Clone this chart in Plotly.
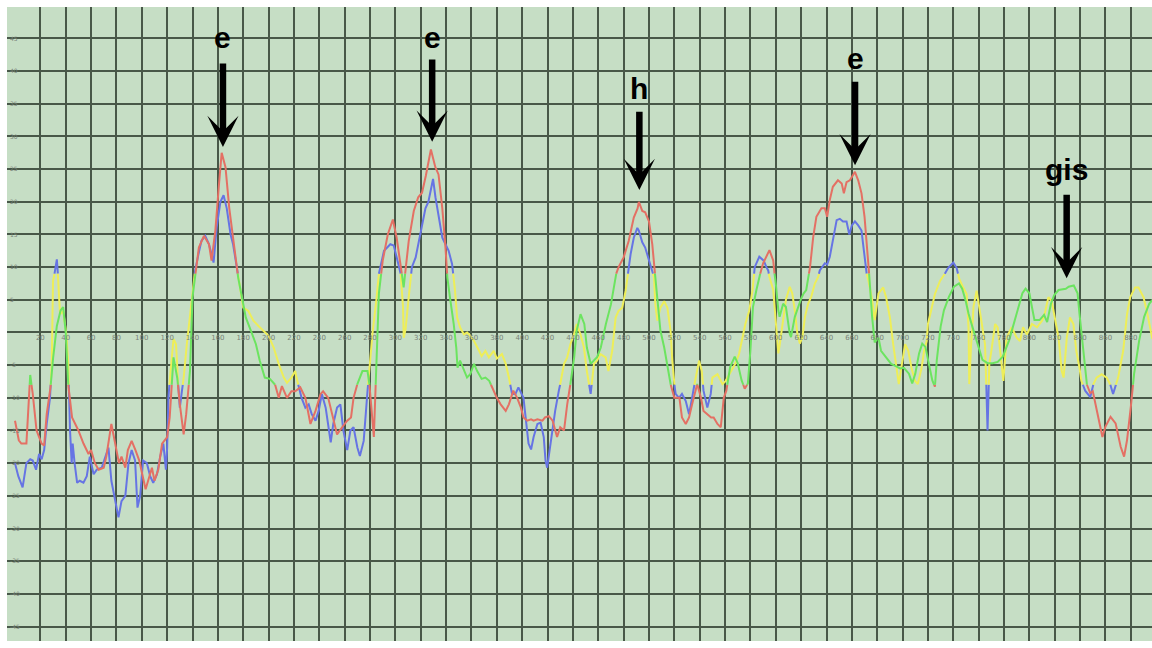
import plotly.graph_objects as go

# ---- pitch tracks (x position, deviation value) ----
track1_x = [0, 3, 5, 9, 12, 14, 17, 21, 23, 25, 28, 30, 33, 36, 38, 40, 42, 45, 50, 54, 58, 60, 63, 66, 70, 72,
            76, 79, 82, 84, 87, 89, 92, 95, 98, 103, 105, 108, 110, 113, 116, 120, 122, 125, 128, 130, 133, 135,
            138, 140, 143, 145, 149, 153, 155, 158, 161, 163, 166, 169, 172, 176, 179, 182, 186, 190, 193, 197,
            201, 205, 208, 210.5, 214.5, 218, 221, 225, 229, 233, 237, 241, 243, 247, 251, 254, 258, 262, 265,
            267, 270, 274, 278, 279.5, 281.5, 283, 285, 287, 290, 294, 298, 301, 304, 306.5, 310.5, 314.5, 318,
            321, 324, 328, 331.5, 334, 337, 339.5, 341, 343, 346, 348, 349, 351, 354, 356.5, 359, 362, 364.5, 368,
            371, 374, 377.5, 380, 383, 387, 389.5, 393, 396, 399, 401, 404, 407, 409, 412, 416, 418, 421, 424,
            426, 427.5, 430, 433, 435.5, 438, 441, 443, 446, 449, 451, 454, 456.5, 459, 462, 466, 470, 474, 476,
            480, 484, 488, 491, 492, 494.7, 497, 500, 502.6, 505, 506.6, 509, 512, 514.5, 517, 520, 524, 526, 529,
            531.6, 534, 538, 541, 543, 546, 549, 551, 554, 556.6, 559, 561, 564, 567.6, 570, 573, 575.5, 578, 580,
            582, 584.7, 587, 590, 595, 598, 599, 600, 602, 603, 605.8, 608, 611, 612, 615, 617.6, 620, 622, 624,
            627, 629.5, 632, 636, 638.7, 640.5, 642.6, 645, 649, 652, 653.7, 655.8, 658.4, 660, 662.4, 665, 667.6,
            670, 673, 674.5, 676, 678, 681, 683, 687, 691, 695, 698, 701, 705, 707.6, 710, 713, 715.5, 718, 720.8,
            723.4, 725.5, 727, 730, 732.6, 736.6, 740.5, 744.5, 747, 749.7, 752, 755, 759, 763, 767, 771, 775, 779,
            784, 788, 792, 794.5, 797, 800, 802, 804, 808, 811.6, 814, 817, 819.5, 823, 828.7, 831, 835, 838, 839.5,
            842, 843.5, 845, 848, 850, 854, 857.6, 860, 864, 868, 872, 874.7, 877, 880, 882.6, 886.6, 890.5, 894.5,
            897]
track1_y = [-13.5, -16.5, -17, -17, -6.5, -9.4, -15, -17, -17.3, -12.5, -8.4, -4, 1, 3.4, 3.9, 0, -8, -13, -15,
            -17, -18.6, -18, -20, -21, -20.7, -19, -14, -17, -20, -19, -20.7, -18, -16.6, -18, -19.6, -24, -22.7,
            -20.7, -22.7, -21, -17, -16, -13, -3.8, -7, -11, -15.6, -12.5, -5.9, 5.4, 10, 13, 14.8, 13.5, 11, 15.6,
            23, 27.5, 25.3, 19, 14.5, 8.4, 5.4, 2.3, 0.3, -1.8, -4.3, -6.9, -7.1, -7.9, -10, -8.2, -10, -9, -9,
            -8.4, -10, -14, -12, -9.4, -9, -10, -13.5, -15.6, -14.5, -13.5, -13, -10, -7.9, -5.9, -5.9, -7.9,
            -12.5, -16, -5, 6, 11, 15, 17.3, 14.5, 10.5, 6.9, 14, 18.6, 20.7, 21.4, 24, 28, 25.3, 24.2, 19, 13,
            8.4, 5.4, 1.3, -2.3, -5.4, -4.3, -5.9, -6.9, -6.4, -4.8, -5.9, -7.1, -6.9, -7.4, -8.9, -10, -11, -12,
            -11, -8.9, -10, -11.5, -13, -13.5, -13.3, -13.5, -13.3, -13.5, -13, -12.8, -13.5, -15, -16, -14.5,
            -15, -11, -7.9, -3.8, 0.3, 2.8, 1.3, -2.3, -4.8, -4.3, -3.8, -2.3, 1.3, 4.3, 8.9, 10, 11.5, 14, 17.6,
            19, 20, 18.6, 18.4, 17, 13.5, 8.4, 5.4, 0.3, -2.3, -5.4, -7.9, -10, -10, -13, -14, -13, -11, -7.9,
            -10, -12, -12.5, -13, -13, -14, -14.5, -10, -8.9, -5.3, -3.7, -4.7, -7.3, -8.6, -7.8, -2.7, 3.9, 6.5,
            8.5, 10.6, 12.6, 11, 9, 7.5, 3.4, 2.4, 4.4, 3.9, -0.2, -0.7, 2.4, 3.9, 5.2, 6, 6.5, 10, 14.6, 17.7,
            19, 19, 17.7, 20.3, 22.3, 23.3, 22.8, 21.3, 23, 23.3, 23.8, 24.6, 23.3, 21.3, 17.7, 11, 6, 2.3, -1.5,
            -0.8, -2.8, -3.8, -4.8, -5.2, -5.5, -5.4, -6.3, -7.8, -6.3, -3.2, -1.7, -2.2, -4.7, -7.3, -8.3, -4.2,
            0.9, 3.4, 5.5, 7, 7.5, 6.7, 4.9, 2.9, 0.9, -1.7, -4.2, -4.7, -4.7, -4.5, -3.7, -1.2, 1.4, 4.4, 6, 6.7,
            6, 3.9, 1.9, 1.9, 2.7, 1.6, 4.4, 5.7, 6.5, 6.7, 7, 7.2, 6, 2.9, -2.2, -5.3, -7.8, -9.3, -9, -13, -16,
            -14.4, -12.9, -13.9, -17.5, -19, -16.5, -11.4, -6.3, -1.2, 2.4, 4.4, 5]

track2_x = [0, 2.6, 6, 9, 12, 14, 16.6, 19, 21, 23, 25, 27.6, 29, 30, 31.6, 33, 34, 35.5, 38, 40.5, 42, 43.4,
            44.7, 45.5, 47, 49, 51, 54, 56.6, 59, 62, 64.5, 68.4, 72, 73.7, 76, 79, 81.6, 84, 87, 89.5, 92, 94.7,
            96.6, 98.7, 101, 104, 106.6, 109, 112, 114.5, 117, 119, 120, 121, 123, 125, 127, 129, 130, 131.6, 133,
            135.5, 139.5, 142, 144.7, 147, 150, 153, 156.6, 159, 162, 164.5, 167, 170, 172, 175, 178, 180, 184,
            188, 192, 196, 200, 204, 208, 212, 214.5, 218, 221, 222, 226, 229, 231.6, 234, 237, 239.5, 242, 245,
            247, 249, 251, 254, 256.6, 259, 262, 264.5, 267, 270, 272, 275, 278, 280, 282, 285, 287, 291, 296,
            298.7, 301, 304, 306, 306.6, 308, 310.5, 313, 316, 320, 323.7, 326, 329.7, 331.6, 334, 337, 339.5, 342,
            344.7, 347, 348.7, 351, 354, 356.6, 359, 362, 366, 368, 371, 373.7, 377.6, 380, 384, 387, 389.5, 392,
            394.7, 397, 401, 402.6, 405, 407, 409, 412, 414.5, 417, 418.4, 419.7, 421.6, 423.7, 426, 428.9, 430,
            433, 435.5, 438, 440.8, 443, 446, 448.7, 451, 454, 456.6, 459, 461.8, 465.8, 468, 471, 473.7, 476,
            478.9, 481.6, 483, 485.5, 488, 490.8, 492, 494.7, 497, 500, 502.6, 504, 505, 506.6, 509, 512, 514.5,
            517, 518.4, 520, 521, 523.7, 526, 529, 531.6, 534, 536.8, 539.5, 541.6, 543, 546, 548.7, 550, 554, 558,
            560.5, 564.5, 568, 571, 573.7, 576, 579, 581.6, 583.4, 587, 590.5, 592.6, 594, 595, 598, 600, 602, 603,
            605.8, 608, 611, 613, 615, 617, 619, 621, 623, 625.5, 628, 630.8, 633.4, 634.7, 638.7, 640.5, 642.6,
            645, 648, 650.5, 653, 655.8, 658, 660, 662.4, 665, 667.6, 669.5, 671, 673, 676, 678, 681, 684.7, 687,
            690, 692.6, 695, 697, 699, 702, 704.5, 707, 709.7, 712, 715, 717, 719, 720, 723, 725.5, 729.5, 733,
            736, 740, 742.6, 744.7, 747.5, 750.5, 752, 752.6, 754, 756, 758.4, 761, 765, 766, 767, 768.4, 770, 773,
            775, 777, 779.5, 782, 786, 790, 792.6, 795, 798, 802, 806, 810, 812, 815, 817.6, 820, 823, 825.5, 827,
            829.5, 832, 834.7, 837, 839.5, 841, 844, 848, 850.5, 853, 857, 861, 863.7, 866, 867.6, 870, 874, 877,
            879.5, 883.4, 886, 890, 892.6, 895, 897]
track2_y = [-20, -22, -23.7, -20, -19.4, -19.6, -21, -18.6, -19.4, -18, -14, -10, -4.8, 7.9, 9.4, 11.2, 8.4, 2.8,
            3.3, -0.3, -4.8, -15, -20, -17, -20, -23, -22.7, -23, -22, -19, -21.7, -21, -20.7, -18.6, -17.6, -22.7,
            -26, -28.3, -25.8, -25, -20, -18, -19.6, -26.8, -25, -19.6, -20, -22, -23, -21.7, -19, -17, -21, -17.6,
            -10, -4.8, -1, -1.8, -9, -11.5, -9, -7, -1.8, 5.4, 9.4, 12, 14, 14.8, 13.5, 10.7, 16, 20, 21, 19, 15,
            13.5, 10, 5.9, 3.8, 3.3, 1.8, 1, 0.3, -0.5, -2.3, -4.8, -6.9, -7.7, -6.9, -5.9, -6.9, -10, -11.5, -11,
            -12.5, -13.5, -12, -9.4, -11.5, -14.5, -16.8, -14, -11.5, -11, -15, -18, -15, -14.5, -17.6, -18.9,
            -16.6, -9, -4.3, 0, 5, 9, 12.5, 13.5, 13.3, 11.5, 9.4, 4, -0.8, 0.5, 5.4, 10, 11.5, 15.6, 19, 20, 23.5,
            20.7, 17.6, 14.5, 13.5, 12.5, 10.5, 6.4, 2.3, 0.8, -0.3, 0, -0.5, -1.3, -2.8, -3.6, -2.8, -3.8, -2.8,
            -4, -3.3, -4.8, -6.9, -9.4, -9.4, -8.4, -10, -13, -17, -17.9, -16, -14, -13.8, -16, -19.6, -20.7, -18,
            -15, -12, -8.9, -7.9, -4.8, -3.8, -1.8, -0.3, 1.3, -0.3, -2.3, -5.9, -9.4, -4.8, -4.3, -3.3, -3.8,
            -5.9, -2.8, 2.3, 3.3, 3.8, 6.4, 8.4, 12, 14.5, 16, 15.6, 13.8, 13, 11, 9.4, 8.4, 4.3, 1.8, 3.8, 4.8,
            3.8, 0.3, -4.3, -7.9, -9.4, -10, -9.4, -10.5, -12.5, -10, -6.9, -4.3, -5.9, -8.9, -11.5, -9.4, -6.9,
            -6.4, -7.9, -7.4, -5.9, -4.8, -3.3, -0.8, 1.3, 3.3, 6.4, 10, 11.6, 11, 10, 9.5, 8.5, 6.5, 1.4, -3.2,
            -2, 1.9, 5, 7, 6, 3.4, -0.2, -1.7, -0.7, 2.4, 4.4, 5.5, 7.5, 8.5, 9.5, 10.6, 10.4, 11.6, 14, 17.2,
            17.4, 17, 17, 15, 16.4, 17, 16.4, 15.6, 12.5, 9.5, 8, 5, 1.9, 6, 6.9, 5.4, 2.3, -1.8, -5.4, -7.9, -5.4,
            -1.8, -2.8, -5.4, -7.4, -7.9, -5.4, -2.8, -1.3, 1.3, 3.8, 5.9, 7.9, 8.9, 9.9, 10.7, 9.9, 8.2, 7, 5.9,
            0.8, -7.9, -2, 4, 6.4, 3.3, -1.8, -7.9, -15, -4.8, -2.8, 1.3, 0.8, -2.8, -7.4, -0.8, 0.8, -0.8, -1.3,
            0.8, -0.3, 1.3, 0.8, 1.8, 2.8, 5.4, 4.8, 2.3, -0.8, -5.9, -6.9, -0.8, 2.3, 1.3, -2.8, -5.4, -7.4, -8.9,
            -9.9, -7.9, -6.9, -6.4, -6.9, -7.9, -9.4, -8.4, -6.9, -2.8, 2.8, 5.4, 6.9, 6.9, 5.4, 3.3, 0.8, -1]

# ---- note markers: label, x of the peak, arrow tip / tail / text heights ----
note_labels = ["e", "e", "h", "e", "gis"]
note_x = [164.0, 329.0, 492.4, 662.5, 829.4]
note_tip_y = [28.4, 29.2, 21.8, 25.6, 8.3]
note_tail_y = [41.4, 42.0, 34.0, 38.6, 21.3]
note_text_y = [45.1, 45.1, 37.4, 42.0, 25.0]

# ---- axes ----
x_tick_values = list(range(0, 900, 20))
x_tick_labels = [""] + [str(v) for v in range(20, 900, 20)]
y_tick_values = list(range(-45, 50, 5))
y_tick_labels = [str(v) if v != 0 else "" for v in y_tick_values]

X_RANGE = [-6.31, 896.7]
Y_RANGE = [-47.22, 49.82]
HIGH, LOW = 9.0, -8.0
GRID = "rgb(72,88,72)"

COLORS = {
    ("t1", True): "rgb(228,112,100)",
    ("t1", False): "rgb(108,228,96)",
    ("t2", True): "rgb(102,116,228)",
    ("t2", False): "rgb(238,238,88)",
}


def colour_runs(xs, ys, high, low):
    """Split a polyline into runs that lie outside / inside the [low, high] band."""
    runs = []
    cur_x, cur_y, cur_state = [xs[0]], [ys[0]], None
    for i in range(1, len(xs)):
        x0, y0, x1, y1 = xs[i - 1], ys[i - 1], xs[i], ys[i]
        cuts = []
        for level in (high, low):
            if (y0 - level) * (y1 - level) < 0:
                cuts.append((level - y0) / (y1 - y0))
        cuts = sorted(cuts) + [1.0]
        t_prev = 0.0
        for t in cuts:
            tm = (t_prev + t) / 2
            ym = y0 + tm * (y1 - y0)
            state = ym >= high or ym <= low
            px, py = x0 + t * (x1 - x0), y0 + t * (y1 - y0)
            if cur_state is None:
                cur_state = state
            if state != cur_state:
                runs.append((cur_state, cur_x, cur_y))
                sx, sy = x0 + t_prev * (x1 - x0), y0 + t_prev * (y1 - y0)
                cur_x, cur_y, cur_state = [sx], [sy], state
            cur_x.append(px)
            cur_y.append(py)
            t_prev = t
    runs.append((cur_state, cur_x, cur_y))
    return runs


fig = go.Figure()

for name, xs, ys in (("t2", track2_x, track2_y), ("t1", track1_x, track1_y)):
    for state, rx, ry in colour_runs(xs, ys, HIGH, LOW):
        fig.add_trace(go.Scatter(
            x=rx, y=ry, mode="lines",
            line=dict(color=COLORS[(name, state)], width=2),
            hoverinfo="skip", showlegend=False,
        ))

annotations = []
for label, nx, tip, tail, ty in zip(note_labels, note_x, note_tip_y, note_tail_y, note_text_y):
    annotations.append(dict(
        x=nx, y=tip, xref="x", yref="y",
        ax=nx, ay=tail, axref="x", ayref="y",
        text="", showarrow=True,
        arrowhead=3, arrowsize=0.8, arrowwidth=6.5, arrowcolor="black",
    ))
    annotations.append(dict(
        x=nx, y=ty, xref="x", yref="y", text=label, showarrow=False,
        font=dict(family="Liberation Sans, Arial, sans-serif", size=30, color="black", weight="bold"),
    ))

zero_pos = (0 - Y_RANGE[0]) / (Y_RANGE[1] - Y_RANGE[0])

fig.update_layout(
    width=1152, height=648, autosize=False,
    margin=dict(l=7, r=0, t=7, b=7, pad=0),
    paper_bgcolor="white",
    plot_bgcolor="#c6dec5",
    annotations=annotations,
    xaxis=dict(
        range=X_RANGE, tickmode="array", tickvals=x_tick_values, ticktext=x_tick_labels,
        showgrid=True, gridcolor=GRID, gridwidth=2, zeroline=False, showline=False,
        anchor="free", position=zero_pos, side="bottom", ticks="",
        tickfont=dict(family="DejaVu Sans, sans-serif", size=7, color="rgb(120,130,120)"),
    ),
    yaxis=dict(
        range=Y_RANGE, tickmode="array", tickvals=y_tick_values, ticktext=y_tick_labels,
        showgrid=True, gridcolor=GRID, gridwidth=2, zeroline=False, showline=False,
        ticks="", ticklabelposition="inside",
        tickfont=dict(family="DejaVu Sans, sans-serif", size=6, color="rgb(120,130,120)"),
    ),
)

fig.write_html("out.html")
